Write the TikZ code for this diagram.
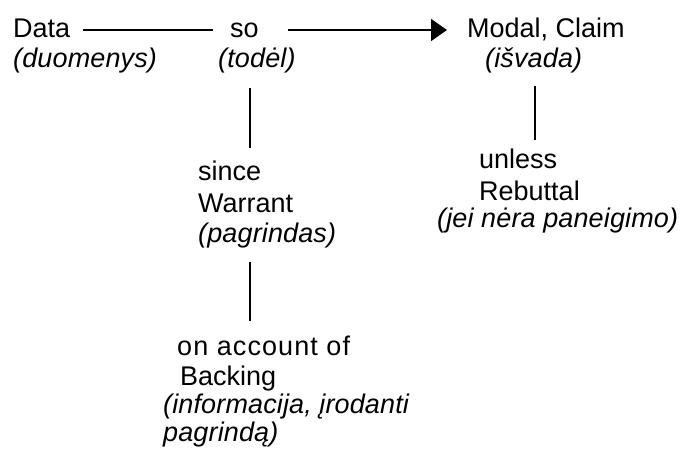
\documentclass[tikz,border=0pt]{standalone}
\usepackage{fontspec}
\setmainfont{Liberation Sans}
\newfontfamily\itf{Liberation Sans}[LetterSpace=0.5]
\newfontfamily\widef{Liberation Sans}[LetterSpace=4]
\usetikzlibrary{arrows.meta}
\tikzset{
  txt/.style={inner sep=0pt, anchor=base west, font=\fontsize{27}{32}\selectfont},
  itx/.style={inner sep=0pt, anchor=base west, font=\fontsize{27}{32}\selectfont\itf\itshape},
  conn/.style={line width=1.7pt},
}
\begin{document}
\begin{tikzpicture}[x=1pt,y=1pt]
\useasboundingbox (0,0) rectangle (686,-450);
\node[txt] (data) at (13,-37) {Data};
\node[itx] (duom) at (13,-67) {(duomenys)};
\node[txt] (so) at (230,-37) {so};
\node[itx] (todel) at (218,-67) {(todėl)};
\node[txt] (claim) at (467,-37) {Modal, Claim};
\node[itx] (isvada) at (485,-67) {(išvada)};
\node[txt] (since) at (198,-180) {since};
\node[txt] (warrant) at (198,-212) {Warrant};
\node[itx] (pagr) at (198,-242) {(pagrindas)};
\node[txt, font=\fontsize{27}{32}\selectfont\widef] (onacc) at (177,-355) {on account of};
\node[txt] (backing) at (180,-385) {Backing};
\node[itx] (info) at (163,-413) {(informacija, įrodanti};
\node[itx] (pagr2) at (163,-441) {pagrindą)};
\node[txt] (unless) at (479,-168) {unless};
\node[txt] (rebuttal) at (479,-200) {Rebuttal};
\node[itx] (jei) at (437,-227) {(jei nėra paneigimo)};

\draw[conn] ([xshift=13,yshift=7]data.base east) -- ([xshift=-17,yshift=7]so.base west);
\draw[conn, -{Triangle[length=16pt,width=22pt]}] ([xshift=29,yshift=7]so.base east) -- ([xshift=-20,yshift=7]claim.base west);
\draw[conn] ([xshift=32,yshift=-21]todel.base west) -- ([xshift=52,yshift=32]since.base west);
\draw[conn] ([xshift=52,yshift=-20]pagr.base west) -- ([xshift=73,yshift=34]onacc.base west);
\draw[conn] ([xshift=50,yshift=-19]isvada.base west) -- ([xshift=56,yshift=28]unless.base west);
\end{tikzpicture}
\end{document}
